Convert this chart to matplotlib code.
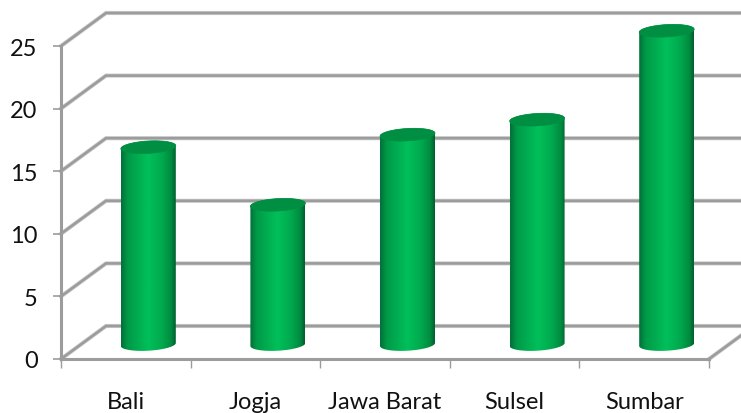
"""Faux-3D cylinder column chart."""

import matplotlib
matplotlib.use("Agg")
import matplotlib.pyplot as plt
import numpy as np
from matplotlib.colors import LinearSegmentedColormap
from matplotlib.patches import PathPatch, Polygon
from matplotlib.path import Path

plt.rcParams["font.family"] = ["Lato", "DejaVu Sans"]

categories = ["Bali", "Jogja", "Jawa Barat", "Sulsel", "Sumbar"]
values = [15.6, 11.0, 16.6, 17.8, 24.9]
y_ticks = [0, 5, 10, 15, 20, 25]

W, H = 741, 414
LEFT, RIGHT, BOTTOM, TOP = 61, 709, 360, 47
GRID = "#9c9c9c"
HALO = "#cfcfcf"

fig = plt.figure(figsize=(W / 100, H / 100), dpi=100)
ax = fig.add_axes([LEFT / W, 1 - BOTTOM / H, (RIGHT - LEFT) / W, (BOTTOM - TOP) / H])
ax.set_xlim(0, 5)
ax.set_ylim(0, 25)

# pixel sizes expressed in data units
px_x = 5 / (RIGHT - LEFT)
px_y = 25 / (BOTTOM - TOP)
depth_x = 45 * px_x
depth_y = 33 * px_y

# back wall and left wall lines, soft edge under a darker core
for v in y_ticks:
    for col, lw in [(HALO, 3.0), (GRID, 1.9)]:
        ax.plot([0, depth_x, 5 + depth_x], [v, v + depth_y, v + depth_y],
                color=col, lw=lw, clip_on=False, zorder=1, solid_joinstyle="miter")
for col, lw in [(HALO, 3.0), (GRID, 1.9)]:
    ax.plot([5, 5 + depth_x], [0, depth_y], color=col, lw=lw, clip_on=False, zorder=1)

for s in ["top", "right"]:
    ax.spines[s].set_visible(False)
for s in ["left", "bottom"]:
    ax.spines[s].set_color(GRID)
    ax.spines[s].set_linewidth(2.2)

ax.set_yticks(y_ticks)
ax.tick_params(axis="y", length=5.8, width=1.2, color=GRID, pad=11, labelsize=17, labelcolor="#111111")
ax.set_xticks(np.arange(6))
ax.set_xticklabels([])
ax.tick_params(axis="x", which="major", length=6.5, width=1, color=GRID)
ax.set_xticks(np.arange(5) + 0.5, minor=True)
ax.set_xticklabels(categories, minor=True, fontsize=17, color="#111111")
ax.tick_params(axis="x", which="minor", length=0, pad=23)

side_cmap = LinearSegmentedColormap.from_list(
    "side", [(0, "#00703a"), (0.12, "#009a48"), (0.5, "#00c05a"),
             (0.75, "#00a94e"), (0.92, "#008a40"), (1, "#005f2d")])
gradient = np.linspace(0, 1, 128).reshape(1, -1)

half_w = 27.5 * px_x
half_h = 6.2 * px_y
tilt = 0.055  # the ellipses rise slightly to the right
t = np.linspace(0, 2 * np.pi, 91)


def ring(cx, cy):
    xs = np.cos(t)
    return np.column_stack([cx + half_w * xs,
                            cy + half_h * np.sin(t) + tilt * 27.5 * px_y * xs])


for i, val in enumerate(values):
    cx = i + 0.5 + depth_x / 2
    base = depth_y / 2
    top_y = base + val
    low = ring(cx, base - 2 * px_y)[t >= np.pi]
    up = ring(cx, top_y)[t <= np.pi]
    outline = np.vstack([low, up])
    clip = PathPatch(Path(np.vstack([outline, outline[:1]])), transform=ax.transData,
                     fc="none", ec="none")
    ax.add_patch(clip)
    im = ax.imshow(gradient, extent=[cx - half_w, cx + half_w, 0, top_y + half_h * 2],
                   cmap=side_cmap, aspect="auto", zorder=3, interpolation="bilinear")
    im.set_clip_box(fig.bbox)  # the tallest column rises past the axes box
    im.set_clip_path(clip)
    ax.add_patch(Polygon(ring(cx, top_y), closed=True, fc="#008f42", ec="#008f42",
                         lw=0.5, zorder=4, clip_on=False))

ax.set_xlim(0, 5)
ax.set_ylim(0, 25)

fig.savefig("out.png", dpi=100)
